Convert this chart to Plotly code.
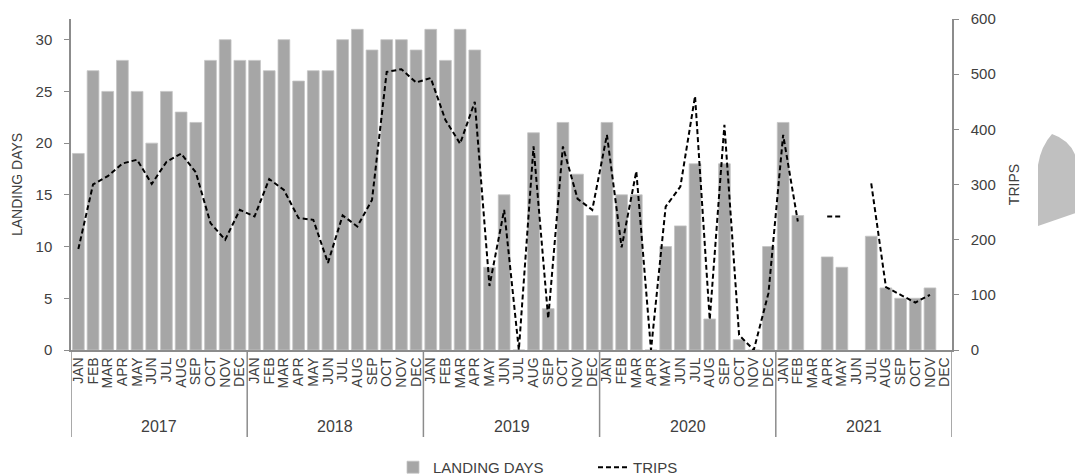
import plotly.graph_objects as go

months = ["JAN", "FEB", "MAR", "APR", "MAY", "JUN", "JUL", "AUG", "SEP", "OCT", "NOV", "DEC"]
years = ["2017", "2018", "2019", "2020", "2021"]

landing_2017 = [19, 27, 25, 28, 25, 20, 25, 23, 22, 28, 30, 28]
landing_2018 = [28, 27, 30, 26, 27, 27, 30, 31, 29, 30, 30, 29]
landing_2019 = [31, 28, 31, 29, 8, 15, 0, 21, 4, 22, 17, 13]
landing_2020 = [22, 15, 15, 0, 10, 12, 18, 3, 18, 1, 0, 10]
landing_2021 = [22, 13, None, 9, 8, None, 11, 6, 5, 5, 6, None]

trips_2017 = [183, 300, 315, 338, 345, 301, 341, 356, 322, 230, 200, 254]
trips_2018 = [242, 310, 290, 239, 236, 158, 244, 224, 272, 504, 509, 485]
trips_2019 = [493, 417, 374, 450, 116, 254, 0, 369, 57, 369, 274, 254]
trips_2020 = [390, 186, 324, 0, 260, 296, 460, 55, 408, 27, 0, 103]
trips_2021 = [390, 233, None, 242, 242, None, 302, 114, 100, 86, 100, None]

landing_days = landing_2017 + landing_2018 + landing_2019 + landing_2020 + landing_2021
trips = trips_2017 + trips_2018 + trips_2019 + trips_2020 + trips_2021

categories = [f"{m} {y}" for y in years for m in months]
month_labels = [m for _ in years for m in months]

FONT = "Liberation Sans"
TXT = "#404040"
AX = "#8c8c8c"

fig = go.Figure()
fig.add_trace(go.Bar(
    x=categories, y=landing_days, name="LANDING DAYS",
    marker=dict(color="#a6a6a6", line=dict(color="#c4c4c4", width=0.8)),
    yaxis="y",
))
fig.add_trace(go.Scatter(
    x=categories, y=trips, name="TRIPS", mode="lines",
    line=dict(color="#000000", width=2, dash="5px,3px"),
    connectgaps=False, yaxis="y2",
))

W, H = 1075, 475
L, R, T, B = 71, 123, 19, 125
pw, ph = W - L - R, H - T - B

def paper(xpx, ypx):
    return ((xpx - L) / pw, (H - B - ypx) / ph)

# decorative grey half-disc at the right edge
pts = [(1052, 134), (1070, 140), (1076, 157), (1076, 213), (1038, 226), (1038, 165), (1041, 146), (1052, 134)]
c = [paper(a, b) for a, b in pts]
path = (f"M {c[0][0]},{c[0][1]} Q {c[1][0]},{c[1][1]} {c[2][0]},{c[2][1]} "
        f"L {c[3][0]},{c[3][1]} L {c[4][0]},{c[4][1]} L {c[5][0]},{c[5][1]} "
        f"Q {c[6][0]},{c[6][1]} {c[7][0]},{c[7][1]} Z")
shapes = [dict(type="path", xref="paper", yref="paper", path=path,
               fillcolor="#c0c0c0", line=dict(width=0), layer="above")]

div_bottom = paper(0, 437)[1]
n = len(months)
for k in range(len(years) + 1):
    xd = k * n - 0.5
    shapes.append(dict(type="line", xref="x", yref="paper", x0=xd, x1=xd,
                       y0=0, y1=div_bottom, line=dict(color=AX, width=1.5)))

year_y = paper(0, 426)[1]
annotations = [dict(text=y, xref="x", yref="paper", x=k * n + (n - 1) / 2, y=year_y,
                    showarrow=False, yanchor="middle", xanchor="center",
                    font=dict(size=16, color=TXT, family=FONT))
               for k, y in enumerate(years)]

fig.update_layout(
    width=W, height=H,
    margin=dict(l=L, r=R, t=T, b=B, autoexpand=False),
    paper_bgcolor="white", plot_bgcolor="white",
    font=dict(family=FONT, size=15, color=TXT),
    bargap=0.2,
    showlegend=True,
    legend=dict(orientation="h", x=paper(393, 0)[0], xanchor="left", y=-0.305, yanchor="top",
                entrywidth=155, entrywidthmode="pixels",
                font=dict(size=15, color=TXT), bgcolor="rgba(0,0,0,0)"),
    xaxis=dict(
        type="category", range=[-0.5, len(categories) - 0.5],
        showline=True, linecolor=AX, linewidth=1.5,
        ticks="", tickangle=-90, tickfont=dict(size=14, color=TXT),
        tickmode="array", tickvals=categories, ticktext=month_labels,
        showgrid=False, automargin=False,
    ),
    yaxis=dict(
        range=[0, 32], tickvals=[0, 5, 10, 15, 20, 25, 30],
        showline=True, linecolor=AX, linewidth=1.5, ticks="outside", ticklen=5,
        tickcolor=AX, showgrid=False, zeroline=False, automargin=False,
        ticklabelstandoff=9,
        title=dict(text="LANDING DAYS", font=dict(size=14, color=TXT), standoff=10),
    ),
    yaxis2=dict(
        range=[0, 600], tickvals=[0, 100, 200, 300, 400, 500, 600],
        overlaying="y", side="right",
        showline=True, linecolor=AX, linewidth=1.5, ticks="outside", ticklen=5,
        tickcolor=AX, showgrid=False, zeroline=False, automargin=False,
        ticklabelstandoff=9,
        title=dict(text="TRIPS", font=dict(size=14, color=TXT), standoff=14),
    ),
    shapes=shapes,
    annotations=annotations,
)

fig.write_html("out.html", config={"displayModeBar": False},
               post_script="document.body.style.margin='0';document.body.style.overflow='hidden';")
